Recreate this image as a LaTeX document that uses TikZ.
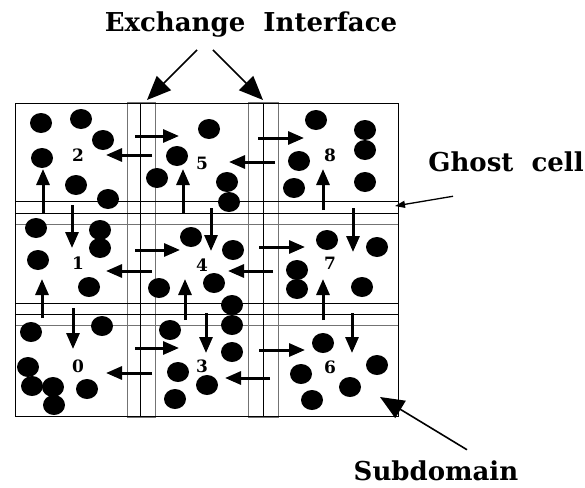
\documentclass[tikz,border=0pt]{standalone}
\usepackage{fontspec}
\setmainfont{DejaVu Serif}
\usetikzlibrary{arrows.meta}

\begin{document}
\begin{tikzpicture}[x=1pt, y=-1pt,
    ghost/.style={draw=black!55, line width=1pt},
    wall/.style={draw=black, line width=1pt},
    dot/.style={fill=black},
    xarrow/.style={-{Triangle[length=16pt, width=13pt]}, line width=3pt},
    callout/.style={-{Triangle[length=24pt, width=20pt]}, line width=1.6pt},
    num/.style={font=\bfseries\fontsize{17}{19}\selectfont, inner sep=1pt},
    lbl/.style={font=\bfseries\fontsize{26}{30}\selectfont, inner sep=1pt}
  ]
  \useasboundingbox (0,0) rectangle (585,487);
  % ghost cell strips
  \draw[ghost] (127,102) rectangle (155,417);
  \draw[ghost] (248,102) rectangle (278,417);
  \draw[ghost] (15,224) -- (398,224) (15,325) -- (398,325);
  \draw[wall] (15,201) -- (398,201) (15,303) -- (398,303);
  % subdomain borders
  \draw[wall] (15,103) rectangle (398,416);
  \draw[wall] (140,103) -- (140,416) (263,103) -- (263,416);
  \draw[wall] (15,213) -- (398,213) (15,314) -- (398,314);
  % particles
  \foreach \x/\y in {41/123, 81/119, 103/140, 42/158, 76/185, 108/199,
      209/129, 177/156, 157/178, 227/182, 229/202,
      316/120, 365/130, 365/150, 299/161, 294/188, 365/182,
      36/228, 100/230, 100/248, 38/260, 89/287,
      191/237, 233/250, 159/288, 214/283, 232/305,
      327/240, 377/247, 297/270, 297/289, 362/287,
      31/332, 102/326, 28/367, 32/386, 53/387, 54/405, 87/389,
      170/330, 232/325, 232/352, 178/372, 175/399, 207/385,
      323/343, 301/374, 312/400, 350/387, 377/365}
    \fill[dot] (\x,\y) ellipse [x radius=11pt, y radius=10pt];
  % subdomain ids
  \node[num] (n2) at (78,155) {2};
  \node[num] (n5) at (202,163) {5};
  \node[num] (n8) at (330,155) {8};
  \node[num] (n1) at (78,263) {1};
  \node[num] (n4) at (202,265) {4};
  \node[num] (n7) at (330,263) {7};
  \node[num] (n0) at (78,366) {0};
  \node[num] (n3) at (202,366) {3};
  \node[num] (n6) at (330,367) {6};
  % exchange across vertical interfaces
  \draw[xarrow] (135,136) -- (179,136);
  \draw[xarrow] (152,155) -- (106,155);
  \draw[xarrow] (135,250) -- (180,250);
  \draw[xarrow] (152,271) -- (106,271);
  \draw[xarrow] (135,348) -- (179,348);
  \draw[xarrow] (152,373) -- (106,373);
  \draw[xarrow] (258,138) -- (304,138);
  \draw[xarrow] (275,162) -- (229,162);
  \draw[xarrow] (259,247) -- (305,247);
  \draw[xarrow] (273,271) -- (228,271);
  \draw[xarrow] (259,350) -- (305,350);
  \draw[xarrow] (270,378) -- (225,378);
  % exchange across horizontal interfaces
  \draw[xarrow] (43,213) -- (43,169);
  \draw[xarrow] (72,205) -- (72,248);
  \draw[xarrow] (183,213) -- (183,169);
  \draw[xarrow] (211,208) -- (211,251);
  \draw[xarrow] (323,210) -- (323,169);
  \draw[xarrow] (353,208) -- (353,252);
  \draw[xarrow] (42,318) -- (42,279);
  \draw[xarrow] (73,308) -- (73,349);
  \draw[xarrow] (185,320) -- (185,279);
  \draw[xarrow] (206,313) -- (206,353);
  \draw[xarrow] (323,320) -- (323,279);
  \draw[xarrow] (352,313) -- (352,353);
  % labels
  \node[lbl] (xchg)  at (251,25)  {Exchange\ \ Interface};
  \node[lbl] (ghost) at (506,162) {Ghost\ \ cell};
  \node[lbl] (subd)  at (436,471) {Subdomain};
  \coordinate (ifL) at (147,100);
  \coordinate (ifR) at (263,100);
  \coordinate (gc)  at (395,206);
  \coordinate (sd)  at (380,397);
  \draw[callout] ([xshift=-54pt, yshift=-11pt]xchg.south) -- (ifL);
  \draw[callout] ([xshift=-38pt, yshift=-11pt]xchg.south) -- (ifR);
  \draw[-{Triangle[length=10pt, width=7pt]}, line width=1.3pt]
    ([xshift=-53pt, yshift=-23pt]ghost.south) -- (gc);
  \draw[callout] ([xshift=31pt, yshift=10pt]subd.north) -- (sd);
\end{tikzpicture}
\end{document}
